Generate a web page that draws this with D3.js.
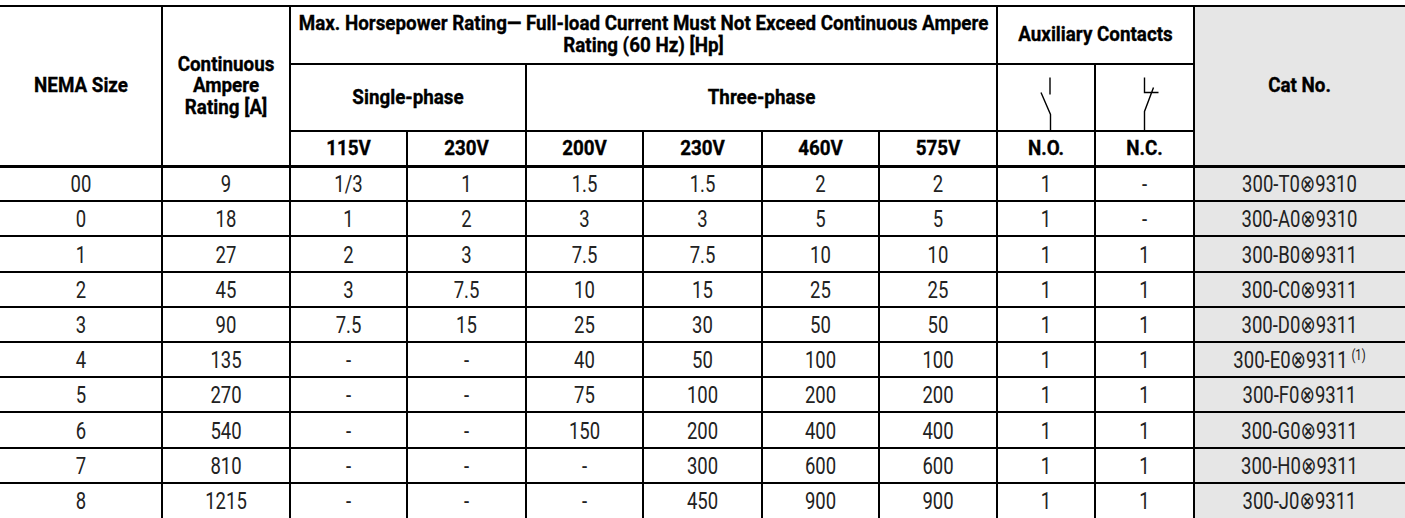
<!DOCTYPE html>
<html>
<head>
<meta charset="utf-8">
<script src="https://cdn.jsdelivr.net/npm/d3@7"></script>
<style>
  html, body { margin: 0; padding: 0; background: #fff; }
  svg { display: block; }
</style>
</head>
<body>
<div id="chart"></div>
<script>
// Table values, one array per column
const nemaSizes = ['00', '0', '1', '2', '3', '4', '5', '6', '7', '8'];
const ampereRatings = ['9', '18', '27', '45', '90', '135', '270', '540', '810', '1215'];
const hpSingle115 = ['1/3', '1', '2', '3', '7.5', '-', '-', '-', '-', '-'];
const hpSingle230 = ['1', '2', '3', '7.5', '15', '-', '-', '-', '-', '-'];
const hpThree200 = ['1.5', '3', '7.5', '10', '25', '40', '75', '150', '-', '-'];
const hpThree230 = ['1.5', '3', '7.5', '15', '30', '50', '100', '200', '300', '450'];
const hpThree460 = ['2', '5', '10', '25', '50', '100', '200', '400', '600', '900'];
const hpThree575 = ['2', '5', '10', '25', '50', '100', '200', '400', '600', '900'];
const auxNO = ['1', '1', '1', '1', '1', '1', '1', '1', '1', '1'];
const auxNC = ['-', '-', '1', '1', '1', '1', '1', '1', '1', '1'];
const catNos = ['300-T0⊗9310', '300-A0⊗9310', '300-B0⊗9311', '300-C0⊗9311', '300-D0⊗9311',
  '300-E0⊗9311', '300-F0⊗9311', '300-G0⊗9311', '300-H0⊗9311', '300-J0⊗9311'];
const catNotes = ['', '', '', '', '', '(1)', '', '', '', ''];

const voltageLabels = ['115V', '230V', '200V', '230V', '460V', '575V'];
const contactLabels = ['N.O.', 'N.C.'];
const hpTitle = ['Max. Horsepower Rating— Full-load Current Must Not Exceed Continuous Ampere', 'Rating (60 Hz) [Hp]'];

// Layout knobs: column edges, header row lines, body rows
const layout = {
  width: 1405,
  height: 518,
  colEdges: [0, 162, 290, 407, 526, 643, 762, 879, 997, 1095, 1194, 1405],
  headerLines: [6, 63.5, 131, 166],
  bodyBottom: 518,
  line: 2,
  thickLine: 3,
  hpTitleWidth: 690, // measured width of the long header line
  digitWidth: 10.4,  // measured width of one body digit
};

const fontFamily = "Roboto, 'Noto Sans', 'DejaVu Sans', sans-serif";
const headFont = { size: 21, weight: 700, fill: '#000', lineGap: 21.5 };
const bodyFont = { size: 24.4, weight: 400, fill: '#222' };
const catFill = '#e6e6e6';

const columns = [nemaSizes, ampereRatings, hpSingle115, hpSingle230, hpThree200,
  hpThree230, hpThree460, hpThree575, auxNO, auxNC, catNos];

const edges = layout.colEdges;
const hl = layout.headerLines;
const colMid = (a, b) => (edges[a] + edges[b]) / 2;
const rowY = d3.scaleLinear().domain([0, nemaSizes.length]).range([hl[3], layout.bodyBottom]);

const svg = d3.select('#chart')
  .append('svg')
  .attr('width', layout.width)
  .attr('height', layout.height)
  .attr('viewBox', `0 0 ${layout.width} ${layout.height}`)
  .style('font-family', fontFamily);

// The reference face is condensed; squeeze installed fonts horizontally to match
const measure = (txt, font) => {
  const t = svg.append('text')
    .attr('font-size', font.size)
    .attr('font-weight', font.weight)
    .text(txt);
  const w = t.node().getComputedTextLength();
  t.remove();
  return w;
};
const headScale = layout.hpTitleWidth / measure(hpTitle[0], headFont);
const bodyScale = (layout.digitWidth * 10) / measure('0123456789', bodyFont);

/* Grey catalogue column */
svg.append('rect')
  .attr('x', edges[10])
  .attr('y', hl[0])
  .attr('width', edges[11] - edges[10])
  .attr('height', layout.bodyBottom - hl[0])
  .attr('fill', catFill);

/* Header cells: column span [c0, c1], header-row span [r0, r1] */
const headerCells = [
  { c0: 0, c1: 1, r0: 0, r1: 3, lines: ['NEMA Size'] },
  { c0: 1, c1: 2, r0: 0, r1: 3, lines: ['Continuous', 'Ampere', 'Rating [A]'] },
  { c0: 2, c1: 8, r0: 0, r1: 1, lines: hpTitle },
  { c0: 2, c1: 4, r0: 1, r1: 2, lines: ['Single-phase'] },
  { c0: 4, c1: 8, r0: 1, r1: 2, lines: ['Three-phase'] },
  ...voltageLabels.map((t, i) => ({ c0: 2 + i, c1: 3 + i, r0: 2, r1: 3, lines: [t] })),
  { c0: 8, c1: 10, r0: 0, r1: 1, lines: ['Auxiliary Contacts'] },
  { c0: 8, c1: 9, r0: 1, r1: 2, lines: [] },
  { c0: 9, c1: 10, r0: 1, r1: 2, lines: [] },
  ...contactLabels.map((t, i) => ({ c0: 8 + i, c1: 9 + i, r0: 2, r1: 3, lines: [t] })),
  { c0: 10, c1: 11, r0: 0, r1: 3, lines: ['Cat No.'] },
];

const capHead = headFont.size * 0.711;

const headG = svg.append('g').attr('class', 'header');
headerCells.forEach((cell) => {
  const cx = colMid(cell.c0, cell.c1);
  const cy = (hl[cell.r0] + hl[cell.r1]) / 2;
  const n = cell.lines.length;
  cell.lines.forEach((t, i) => {
    const y = cy + capHead / 2 + (i - (n - 1) / 2) * headFont.lineGap - 1;
    headG.append('text')
      .attr('transform', `translate(${cx},${y}) scale(${headScale},1)`)
      .attr('text-anchor', 'middle')
      .attr('font-size', headFont.size)
      .attr('font-weight', headFont.weight)
      .attr('fill', headFont.fill)
      .attr('stroke', headFont.fill)
      .attr('stroke-width', 0.35)
      .text(t);
  });
});

/* Contact symbols (N.O. / N.C.) */
const symTop = hl[1] + 14;
const symBot = hl[2];
const noX = colMid(8, 9) + 4;
const ncX = colMid(9, 10);
const sym = svg.append('g').attr('fill', 'none').attr('stroke', '#000').attr('stroke-width', 1.4);
sym.append('path').attr('d', `M${noX},${symTop} V${symTop + 17} M${noX - 9},${symTop + 15} L${noX + 0.5},${symTop + 37} V${symBot}`);
sym.append('path').attr('d', `M${ncX},${symTop} V${symTop + 15} H${ncX + 14} M${ncX + 9},${symTop + 10} L${ncX},${symTop + 34} V${symBot}`);

/* Body text */
const capBody = bodyFont.size * 0.711;
const body = svg.append('g').attr('class', 'body');
columns.forEach((values, ci) => {
  body.selectAll(`text.col-${ci}`)
    .data(values)
    .join('text')
    .attr('class', `col-${ci}`)
    .attr('transform', (d, i) =>
      `translate(${colMid(ci, ci + 1)},${(rowY(i) + rowY(i + 1)) / 2 + capBody / 2}) scale(${bodyScale},1)`)
    .attr('text-anchor', 'middle')
    .attr('font-size', bodyFont.size)
    .attr('font-weight', bodyFont.weight)
    .attr('fill', bodyFont.fill)
    .each(function (d, i) {
      const t = d3.select(this);
      t.append('tspan').text(d);
      if (ci === 10 && catNotes[i]) {
        t.append('tspan')
          .attr('dx', 5)
          .attr('dy', -8)
          .attr('font-size', 15)
          .text(catNotes[i]);
      }
    });
});

/* Grid lines */
const grid = svg.append('g').attr('stroke', '#000').attr('shape-rendering', 'crispEdges');
const hLine = (x0, x1, y, w) => grid.append('line')
  .attr('x1', x0).attr('x2', x1).attr('y1', y).attr('y2', y).attr('stroke-width', w);
const vLine = (x, y0, y1) => grid.append('line')
  .attr('x1', x).attr('x2', x).attr('y1', y0).attr('y2', y1).attr('stroke-width', layout.line);

hLine(0, layout.width, hl[0], layout.line);
headerCells.forEach((cell) => {
  if (cell.r1 < 3) hLine(edges[cell.c0], edges[cell.c1], hl[cell.r1], layout.line);
  if (cell.c1 < 11) vLine(edges[cell.c1], hl[cell.r0], hl[cell.r1]);
});
hLine(0, layout.width, hl[3], layout.thickLine);

d3.range(1, nemaSizes.length).forEach((i) => hLine(0, layout.width, rowY(i), layout.line));
d3.range(1, edges.length - 1).forEach((c) => vLine(edges[c], hl[3], layout.bodyBottom));
</script>
</body>
</html>
